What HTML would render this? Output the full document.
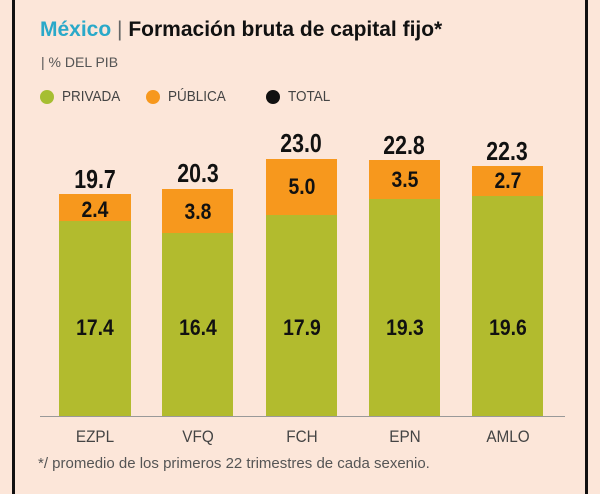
<!DOCTYPE html><html><head><style>
body{margin:0;width:600px;height:494px;background:#fce6d9;overflow:hidden;font-family:"Liberation Sans",sans-serif;position:relative}
.b{position:absolute;border-left:3px solid #111;top:0;height:494px}
.a{position:absolute}
.lbl{position:absolute;font-weight:bold;font-size:22px;color:#111;text-align:center;width:80px;transform:scaleX(0.88)}
.tot{position:absolute;font-weight:bold;font-size:26px;color:#111;text-align:center;width:90px;transform:scaleX(0.82)}
.x{position:absolute;font-size:17px;color:#444;text-align:center;width:90px;top:427px;transform:scaleX(0.9)}
.d{position:absolute;width:14px;height:14px;border-radius:50%;top:90px}
.lg{position:absolute;top:88px;font-size:15px;color:#444;transform-origin:left;transform:scaleX(0.9)}
</style></head><body>
<div class="b" style="left:12px"></div><div class="b" style="left:585px"></div>
<div class="a" style="left:40px;top:18px;font-size:21px;font-weight:bold;color:#111"><span style="color:#2aa9c9">México</span> <span style="font-weight:normal;color:#666">|</span> Formación bruta de capital fijo*</div>
<div class="a" style="left:41px;top:54px;font-size:14px;color:#555">| % DEL PIB</div>
<div class="d" style="left:40px;background:#a6be32"></div><div class="lg" style="left:62px">PRIVADA</div>
<div class="d" style="left:146px;background:#f7981d"></div><div class="lg" style="left:168px">PÚBLICA</div>
<div class="d" style="left:266px;background:#111"></div><div class="lg" style="left:288px">TOTAL</div>
<div class="a" style="left:40px;top:416px;width:525px;height:1px;background:#999"></div>
<svg class="a" style="left:0;top:0" width="600" height="494">
<g fill="#f7981d"><rect x="59" y="194" width="72" height="27"/><rect x="162" y="189" width="71" height="44"/><rect x="266" y="159" width="71" height="56"/><rect x="369" y="160" width="71" height="39"/><rect x="472" y="166" width="71" height="30"/></g>
<g fill="#b2bb2e"><rect x="59" y="221" width="72" height="195"/><rect x="162" y="233" width="71" height="183"/><rect x="266" y="215" width="71" height="201"/><rect x="369" y="199" width="71" height="217"/><rect x="472" y="196" width="71" height="220"/></g>
</svg>
<div class="tot" style="left:50px;top:164px">19.7</div><div class="tot" style="left:153px;top:158px">20.3</div><div class="tot" style="left:256px;top:128px">23.0</div><div class="tot" style="left:359px;top:130px">22.8</div><div class="tot" style="left:462px;top:136px">22.3</div>
<div class="lbl" style="left:55px;top:197px">2.4</div><div class="lbl" style="left:158px;top:199px">3.8</div><div class="lbl" style="left:262px;top:174px">5.0</div><div class="lbl" style="left:365px;top:167px">3.5</div><div class="lbl" style="left:468px;top:168px">2.7</div>
<div class="lbl" style="left:55px;top:315px">17.4</div><div class="lbl" style="left:158px;top:315px">16.4</div><div class="lbl" style="left:262px;top:315px">17.9</div><div class="lbl" style="left:365px;top:315px">19.3</div><div class="lbl" style="left:468px;top:315px">19.6</div>
<div class="x" style="left:50px">EZPL</div><div class="x" style="left:153px">VFQ</div><div class="x" style="left:257px">FCH</div><div class="x" style="left:360px">EPN</div><div class="x" style="left:463px">AMLO</div>
<div class="a" style="left:38px;top:455px;font-size:15px;color:#555">*/ promedio de los primeros 22 trimestres de cada sexenio.</div>
</body></html>
